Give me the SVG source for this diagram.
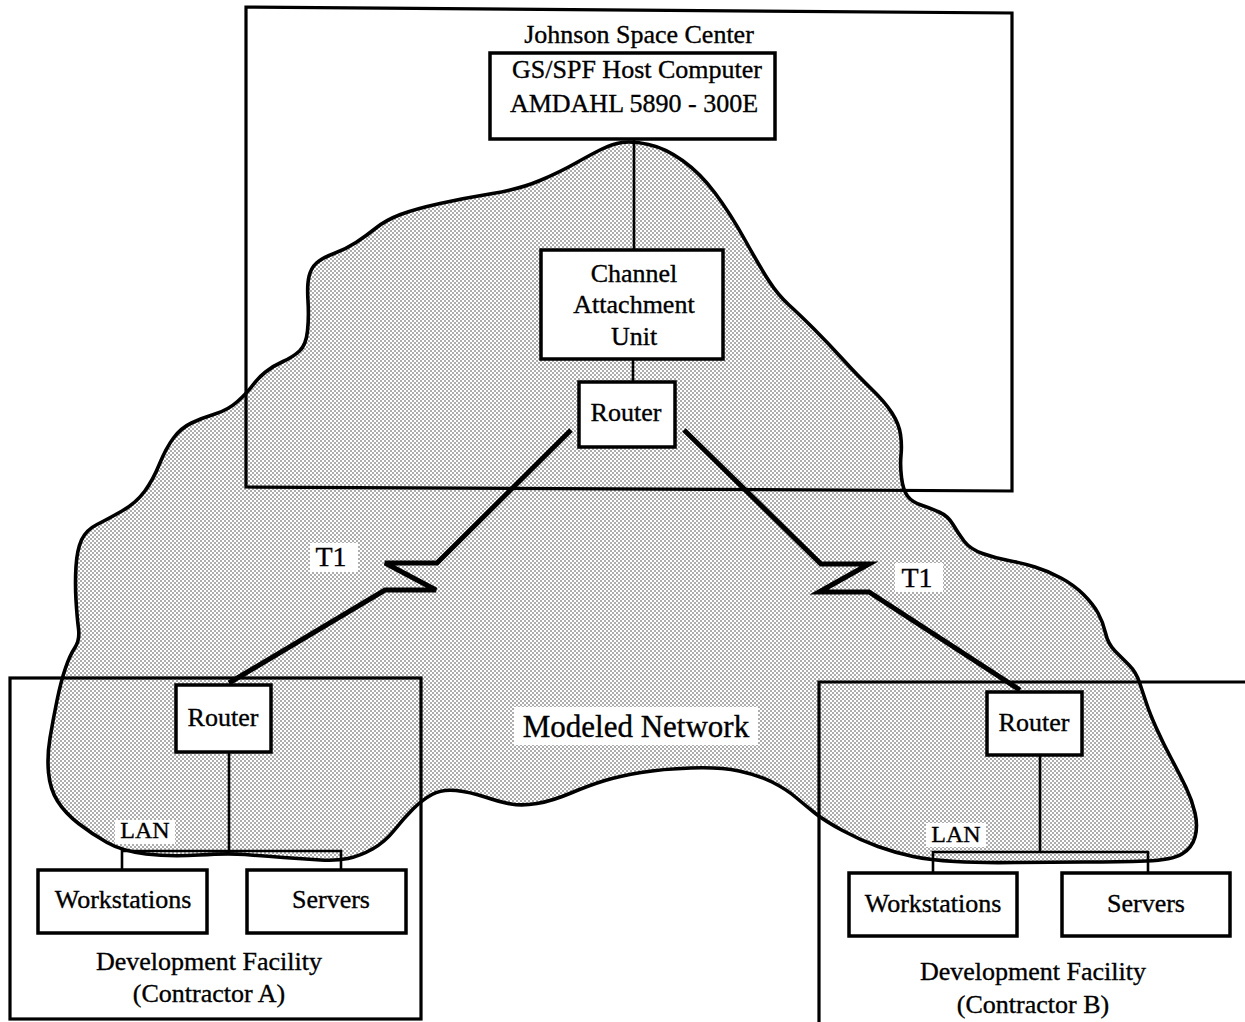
<svg xmlns="http://www.w3.org/2000/svg" width="1245" height="1022" viewBox="0 0 1245 1022">
<defs>
<pattern id="dots" patternUnits="userSpaceOnUse" width="4" height="4">
<rect width="4" height="4" fill="#ffffff"/>
<circle cx="1" cy="1" r="0.75" fill="#333"/>
<circle cx="3" cy="3" r="0.75" fill="#333"/>
</pattern>
<style>
text{font-family:"Liberation Serif","Times New Roman",serif;fill:#000;stroke:#000;stroke-width:0.35;text-anchor:middle}
.lbl{font-size:26px}
.box{fill:#fff;stroke:#000;stroke-width:3.5}
.frame{fill:none;stroke:#000;stroke-width:3.2}
.cloud{fill:url(#dots);stroke:#000;stroke-width:3.6;stroke-linejoin:round}
.wire{fill:none;stroke:#000;stroke-width:2.6}
.t1{fill:none;stroke:#000;stroke-width:5;stroke-linejoin:miter}
.bg{fill:#fff;stroke:none}
</style>
</defs>
<rect width="1245" height="1022" fill="#fff"/>

<g id="modeled-network">
<path class="cloud" d="M622,142.5 Q632,141 648.5,144.5 T682.5,160.5 T715,193 T745,240 T769,281 T789,305 T814,329 T843,359.5 T871.5,389 T892,413 T900.5,434.5 T901,455 T901.5,477.5 T907.5,496 T921,505 T939,512 T953,524.5 T964,541 T982.5,553.5 T1008.5,560.5 T1035,567 T1061,578 T1083.5,594.5 T1098,613 T1105.5,633 T1115,651 T1129,665 T1139.5,682.5 T1146.5,703.5 T1156.5,728.5 T1171.5,759 T1186,787.5 T1195,813 T1195,837 T1182,854 T1146,861 T1085,862 T1015,862.5 T955,861.5 T913,856.5 T878,846.5 T842.5,830.5 T815.5,813.5 T796,797.5 T772,782 T739,771 T691,768 T641,772.5 T605,780.5 T571,793 T537,803.5 T511,804 T485,797 T456,790.5 T432,794.5 T413,809 T394.5,830 T372.5,849 T348,858.5 T320.5,860 T283.5,857.5 T245,854.5 T199,855 T146,854 T107,842.5 T78.5,823.5 T57.5,801 T48.5,772.5 T50,738 T57,700.5 T65.5,668 T75,647.5 T78.5,628.5 T76,600 T76,566.5 T81.5,540 T97,524.5 T122,511 T144.5,491.5 T159.5,464 T173.5,438 T191.5,423 T215,414 T237.5,401.5 T252.5,385.5 T265.5,372 T283,361.5 T299.5,351 T307.5,331 T308,301 T309,276.5 T316.5,263 T334,253.5 T356,242.5 T376,228 T400.5,214.5 T440,203.5 T492.5,193.5 T540,180.5 T575,163.5 T601,149.5 T622,142.5 Z"/>
<rect class="bg" x="514" y="707" width="244" height="38"/>
<text x="636" y="737" style="font-size:31px">Modeled Network</text>
</g>

<g id="johnson-space-center">
<polygon class="frame" points="246,7 1012,13 1012,491 246,487"/>
<text class="lbl" x="639" y="43">Johnson Space Center</text>
</g>

<g id="dev-facility-a">
<rect class="frame" x="10" y="678" width="411" height="341"/>
<text class="lbl" x="209" y="970">Development Facility</text>
<text class="lbl" x="209" y="1002">(Contractor A)</text>
</g>

<g id="dev-facility-b">
<polyline class="frame" points="1250,682 819,682 819,1025"/>
<text class="lbl" x="1033" y="980">Development Facility</text>
<text class="lbl" x="1033" y="1013">(Contractor B)</text>
</g>

<g id="connectors">
<line class="wire" x1="634" y1="140" x2="634" y2="250"/>
<line class="wire" x1="633" y1="360" x2="633" y2="382"/>
<polyline class="t1" points="571,430 437,563 385,563 436,590 385,590 229,683"/>
<polyline class="t1" points="684,430 821,564 869,564 819,592 869,592 1020,690"/>
<line class="wire" x1="229" y1="752" x2="229" y2="851"/>
<polyline class="wire" points="122,870 122,851 341,851 341,870"/>
<line class="wire" x1="1040" y1="755" x2="1040" y2="852"/>
<polyline class="wire" points="933,873 933,852 1148,852 1148,873"/>
</g>

<g id="t1-left">
<rect class="bg" x="310" y="543" width="48" height="29"/>
<text x="331" y="566" style="font-size:28px">T1</text>
</g>
<g id="t1-right">
<rect class="bg" x="895" y="563" width="48" height="29"/>
<text x="917" y="587" style="font-size:28px">T1</text>
</g>

<g id="host-computer">
<rect class="box" x="490" y="53" width="285" height="86"/>
<text class="lbl" x="637" y="78">GS/SPF Host Computer</text>
<text class="lbl" x="634" y="112">AMDAHL 5890 - 300E</text>
</g>

<g id="channel-attachment-unit">
<rect class="box" x="541" y="250" width="182" height="109"/>
<text class="lbl" x="634" y="282">Channel</text>
<text class="lbl" x="634" y="313">Attachment</text>
<text class="lbl" x="634" y="345">Unit</text>
</g>

<g id="router-jsc">
<rect class="box" x="579" y="382" width="96" height="65"/>
<text class="lbl" x="626" y="421">Router</text>
</g>

<g id="router-a">
<rect class="box" x="176" y="685" width="95" height="67"/>
<text class="lbl" x="223" y="726">Router</text>
</g>

<g id="lan-a">
<rect class="bg" x="115" y="820" width="60" height="24"/>
<text x="145" y="838" style="font-size:24px">LAN</text>
</g>

<g id="workstations-a">
<rect class="box" x="38" y="870" width="169" height="63"/>
<text class="lbl" x="123" y="908">Workstations</text>
</g>

<g id="servers-a">
<rect class="box" x="247" y="870" width="159" height="63"/>
<text class="lbl" x="331" y="908">Servers</text>
</g>

<g id="router-b">
<rect class="box" x="987" y="692" width="95" height="63"/>
<text class="lbl" x="1034" y="731">Router</text>
</g>

<g id="lan-b">
<rect class="bg" x="926" y="823" width="60" height="24"/>
<text x="956" y="842" style="font-size:24px">LAN</text>
</g>

<g id="workstations-b">
<rect class="box" x="849" y="873" width="168" height="63"/>
<text class="lbl" x="933" y="912">Workstations</text>
</g>

<g id="servers-b">
<rect class="box" x="1062" y="873" width="168" height="63"/>
<text class="lbl" x="1146" y="912">Servers</text>
</g>
</svg>
